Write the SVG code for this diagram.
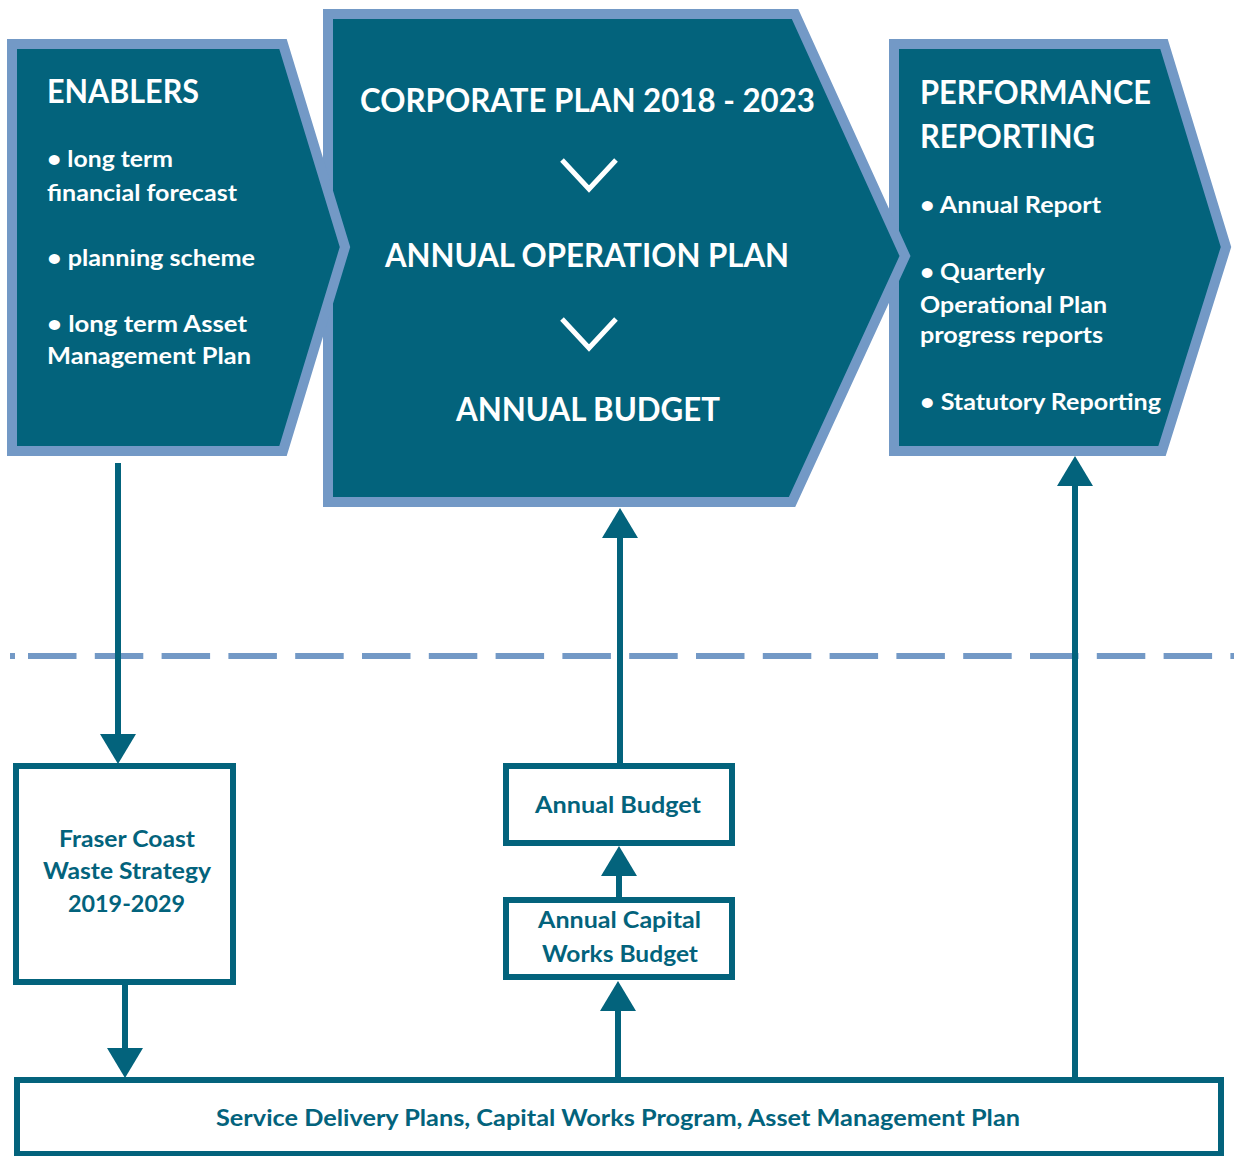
<svg xmlns="http://www.w3.org/2000/svg" width="1234" height="1156" viewBox="0 0 1234 1156">
<style>
.chev{fill:#03637C;stroke:#7399C6;stroke-width:10;stroke-linejoin:miter}
.box{fill:#fff;stroke:#03637C;stroke-width:6}
.h{fill:#fff;font-family:Lato,"Open Sans",sans-serif;font-weight:700;font-size:32px}
.b{fill:#fff;font-family:Lato,"Open Sans",sans-serif;font-weight:700;font-size:23px}
.t{fill:#03637C;font-family:Lato,"Open Sans",sans-serif;font-weight:700;font-size:22px}
.con{fill:none;stroke:#03637C;stroke-width:6}
.v{fill:none;stroke:#fff;stroke-width:5}
</style>
<defs>
<marker id="ah" markerUnits="userSpaceOnUse" viewBox="0 0 30 36" refX="0" refY="18" markerWidth="30" markerHeight="36" orient="auto">
<path d="M0,0 L30,18 L0,36 Z" fill="#03637C"/>
</marker>
</defs>
<g id="divider">
<path d="M10,656 H15 M28,656 H1240" fill="none" stroke="#7399C6" stroke-width="6" stroke-dasharray="48.5 18.3"/>
</g>
<g id="performance">
<path class="chev" d="M894,44 L1164,44 L1226,247 L1162,451 L894,451 Z"/>
<text class="h" x="920" y="104" textLength="231" lengthAdjust="spacingAndGlyphs">PERFORMANCE</text>
<text class="h" x="920" y="148" textLength="175" lengthAdjust="spacingAndGlyphs">REPORTING</text>
<text class="b" x="920" y="213" textLength="181" lengthAdjust="spacingAndGlyphs">• Annual Report</text>
<text class="b" x="920" y="280" textLength="125" lengthAdjust="spacingAndGlyphs">• Quarterly</text>
<text class="b" x="920" y="313" textLength="187" lengthAdjust="spacingAndGlyphs">Operational Plan</text>
<text class="b" x="920" y="343" textLength="183" lengthAdjust="spacingAndGlyphs">progress reports</text>
<text class="b" x="920" y="410" textLength="241" lengthAdjust="spacingAndGlyphs">• Statutory Reporting</text>
</g>
<g id="corporate">
<path class="chev" d="M328,14 L795,14 L905,256 L792,502 L328,502 Z"/>
<text class="h" x="360" y="112" textLength="455" lengthAdjust="spacingAndGlyphs">CORPORATE PLAN 2018 - 2023</text>
<polyline class="v" points="562,160 589,189 616,160"/>
<text class="h" x="385" y="267" textLength="404" lengthAdjust="spacingAndGlyphs">ANNUAL OPERATION PLAN</text>
<polyline class="v" points="562,319 589,348 616,319"/>
<text class="h" x="456" y="421" textLength="264" lengthAdjust="spacingAndGlyphs">ANNUAL BUDGET</text>
</g>
<g id="enablers">
<path class="chev" d="M12,44 L283,44 L345,247 L283,451 L12,451 Z"/>
<text class="h" x="47" y="103" textLength="152" lengthAdjust="spacingAndGlyphs">ENABLERS</text>
<text class="b" x="47" y="167" textLength="126" lengthAdjust="spacingAndGlyphs">• long term</text>
<text class="b" x="47" y="201" textLength="190" lengthAdjust="spacingAndGlyphs">financial forecast</text>
<text class="b" x="47" y="266" textLength="208" lengthAdjust="spacingAndGlyphs">• planning scheme</text>
<text class="b" x="47" y="332" textLength="200" lengthAdjust="spacingAndGlyphs">• long term  Asset</text>
<text class="b" x="47" y="364" textLength="204" lengthAdjust="spacingAndGlyphs">Management Plan</text>
</g>
<g id="waste-strategy">
<rect class="box" x="16" y="766" width="217" height="216"/>
<text class="t" x="59" y="847" textLength="136" lengthAdjust="spacingAndGlyphs">Fraser Coast</text>
<text class="t" x="43" y="879" textLength="168" lengthAdjust="spacingAndGlyphs">Waste Strategy</text>
<text class="t" x="68" y="912" textLength="117" lengthAdjust="spacingAndGlyphs">2019-2029</text>
</g>
<g id="annual-budget">
<rect class="box" x="506" y="766" width="226" height="77"/>
<text class="t" x="535" y="813" textLength="166" lengthAdjust="spacingAndGlyphs">Annual Budget</text>
</g>
<g id="capital-works-budget">
<rect class="box" x="506" y="900" width="226" height="77"/>
<text class="t" x="538" y="928" textLength="163" lengthAdjust="spacingAndGlyphs">Annual Capital</text>
<text class="t" x="542" y="962" textLength="156" lengthAdjust="spacingAndGlyphs">Works Budget</text>
</g>
<g id="service-delivery">
<rect class="box" x="17" y="1080" width="1204" height="74"/>
<text class="t" x="216" y="1126" textLength="804" lengthAdjust="spacingAndGlyphs">Service Delivery Plans, Capital Works Program, Asset Management Plan</text>
</g>
<g id="connectors">
<path class="con" d="M118,463 V734" marker-end="url(#ah)"/>
<path class="con" d="M125,985 V1048" marker-end="url(#ah)"/>
<path class="con" d="M618,1077 V1011" marker-end="url(#ah)"/>
<path class="con" d="M619,898 V876" marker-end="url(#ah)"/>
<path class="con" d="M620,763 V538" marker-end="url(#ah)"/>
<path class="con" d="M1075,1077 V486" marker-end="url(#ah)"/>
</g>
</svg>
